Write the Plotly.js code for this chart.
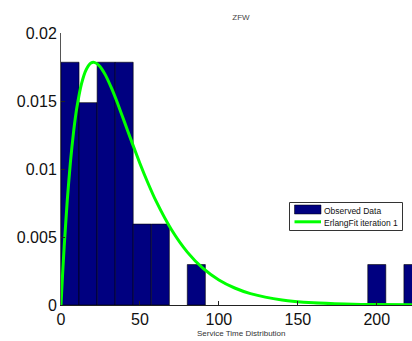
<!DOCTYPE html>
<html><head><meta charset="utf-8">
<script src="https://cdn.plot.ly/plotly-3.0.1.min.js"></script>
<style>html,body{margin:0;padding:0;overflow:hidden;background:#fff}#chart{width:421px;height:341px}</style>
</head><body><div id="chart"></div><script>
// Histogram bins (centers, density)
const binCenters = [5.7, 17.1, 28.6, 40.0, 51.4, 62.9, 85.7, 200.0, 222.9];
const binDensity = [0.01785, 0.01488, 0.01785, 0.01785, 0.00595, 0.00595, 0.002975, 0.002975, 0.002975];
const binWidth = 11.43;
// Erlang fit curve points
const fitX = [0, 1, 2, 4, 6, 8, 10, 13, 16, 19, 21, 24, 28, 32, 36, 40, 45, 50, 55, 60, 70, 80, 90, 100, 110, 120, 140, 160, 180, 200, 223];
const fitY = [0, 0.00224, 0.00427, 0.00775, 0.01055, 0.01277, 0.01448, 0.01628, 0.01732, 0.01779, 0.01784, 0.01762, 0.01694, 0.01594, 0.01478, 0.01352, 0.01194, 0.01041, 0.00899, 0.00769, 0.00553, 0.00389, 0.00269, 0.00184, 0.00125, 0.00084, 0.00037, 0.00016, 0.000069, 0.000029, 0.000010];
const xTicks = [0, 50, 100, 150, 200];
const yTicks = [0, 0.005, 0.01, 0.015, 0.02];
const yTickText = ['0', '0.005', '0.01', '0.015', '0.02'];
const seriesNames = ['Observed Data', 'ErlangFit iteration 1'];

const barColor = '#000080', fitColor = '#00ff00';
const traces = [
  {type:'bar', x:binCenters, y:binDensity, width:binWidth, name:seriesNames[0],
   marker:{color:barColor, line:{color:'#000000', width:0.6}}},
  {type:'scatter', mode:'lines', x:fitX, y:fitY, name:seriesNames[1],
   line:{color:fitColor, width:3, shape:'spline', smoothing:0.6}}
];

// plot area in pixels: x 61..421, y 33..305
const L = 61, R = 421, T = 33, B = 305;
const px = v => (v - L) / (R - L);
const py = v => (B - v) / (B - T);
const legFont = {family:'Liberation Sans, Arial, sans-serif', size:8.5, color:'#111'};

const axFont = {family:'Liberation Sans, Arial, sans-serif', size:16, color:'#111'};
const layout = {
  width:421, height:341,
  margin:{l:61, r:0, t:33, b:36, pad:0},
  paper_bgcolor:'#fff', plot_bgcolor:'#fff',
  showlegend:false, bargap:0,
  title:{text:'ZFW', font:{family:'Liberation Sans, Arial, sans-serif', size:8, color:'#444'},
         xref:'paper', x:0.5, xanchor:'center', yref:'container', y:1-17/341, yanchor:'middle'},
  xaxis:{range:[0,228], tickvals:xTicks, ticks:'inside', ticklen:4, tickcolor:'#222',
         showline:true, linecolor:'#222', linewidth:1, showgrid:false, zeroline:false,
         tickfont:axFont, fixedrange:true},
  yaxis:{range:[0,0.02], tickvals:yTicks, ticktext:yTickText, ticks:'inside', ticklen:4, tickcolor:'#222',
         showline:true, linecolor:'#555', linewidth:1, showgrid:false, zeroline:false,
         tickfont:axFont, fixedrange:true},
  shapes:[
    {type:'rect', xref:'paper', yref:'paper', x0:px(289.5), x1:px(402.5), y0:py(230.5), y1:py(202.5),
     line:{color:'#333', width:1}, fillcolor:'#fff', layer:'above'},
    {type:'rect', xref:'paper', yref:'paper', x0:px(294.5), x1:px(321), y0:py(214), y1:py(205),
     line:{color:'#000', width:0.5}, fillcolor:barColor, layer:'above'},
    {type:'line', xref:'paper', yref:'paper', x0:px(294.5), x1:px(321), y0:py(221.8), y1:py(221.8),
     line:{color:fitColor, width:3}, layer:'above'}
  ],
  annotations:[
    {text:'Service Time Distribution', xref:'paper', yref:'paper', x:0.5, y:py(333),
     xanchor:'center', yanchor:'middle', showarrow:false,
     font:{family:'Liberation Sans, Arial, sans-serif', size:8, color:'#333'}},
    {text:seriesNames[0], xref:'paper', yref:'paper', x:px(321.5), y:py(210.5),
     xanchor:'left', yanchor:'middle', showarrow:false, font:legFont},
    {text:seriesNames[1], xref:'paper', yref:'paper', x:px(321.5), y:py(222.5),
     xanchor:'left', yanchor:'middle', showarrow:false, font:legFont}
  ]
};
Plotly.newPlot('chart', traces, layout, {displayModeBar:false, staticPlot:true});
</script></body></html>
